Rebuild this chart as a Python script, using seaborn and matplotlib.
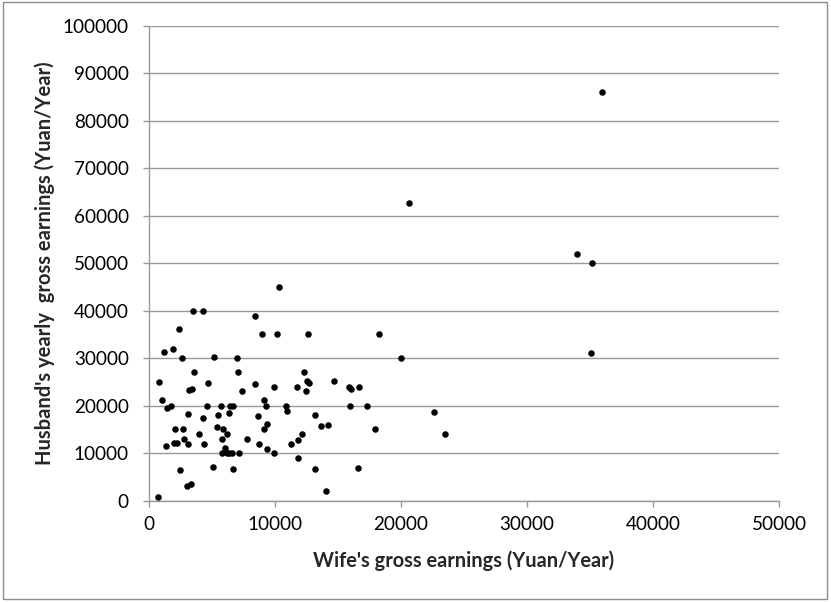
import matplotlib
matplotlib.use("Agg")
import matplotlib.pyplot as plt
import seaborn as sns
import pandas as pd
from matplotlib.patches import Rectangle

# wife's and husband's yearly gross earnings (Yuan/Year)
wife = [3470, 4310, 8440, 2350, 8970, 10190, 1160, 1900, 2650, 5130,
        6960, 3550, 7090, 820, 4680, 8440, 9950, 11780, 3180, 3410,
        7380, 1030, 9100, 1400, 1770, 4630, 5690, 6460, 6670, 9290,
        10900, 10930, 3120, 5480, 6320, 4290, 8620, 2060, 2670, 5370,
        5850, 9340, 9150, 2800, 4000, 6160, 5820, 7780, 1350, 2010,
        2200, 3100, 4370, 8700, 9390, 11240, 11800, 6060, 5790, 6190,
        6380, 6560, 7120, 9890, 11850, 2460, 5050, 6670, 3020, 3310,
        710,
        12620, 18280, 20030, 12280, 12510, 12670, 12430, 14680, 15850, 16030,
        16690, 15950, 17330, 13180, 13650, 14230, 17910, 22650, 12170, 13150,
        16610, 14020,
        23520, 35080, 20660, 10340, 35930, 33970, 35130]

husband = [40000, 40000, 38800, 36100, 35000, 35000, 31300, 32000, 30000, 30200,
           30000, 27000, 27000, 25000, 24800, 24500, 24000, 23900, 23300, 23500,
           23100, 21100, 21200, 19500, 19800, 20000, 20000, 20000, 20000, 20000,
           20000, 18900, 18200, 18000, 18400, 17300, 17700, 15000, 15000, 15400,
           15100, 16100, 15000, 13000, 14000, 14000, 12900, 13000, 11400, 12100,
           12200, 12000, 12000, 12000, 10900, 12000, 12800, 11100, 10000, 10000,
           10000, 10000, 10000, 10000, 8900, 6500, 7000, 6700, 3100, 3400,
           800,
           35000, 35000, 30000, 27000, 25200, 24800, 23100, 25100, 24000, 23500,
           24000, 20000, 20000, 18000, 15600, 16000, 15000, 18700, 14000, 6700,
           6800, 2100,
           14000, 31000, 62600, 45000, 86000, 51900, 50000]

x_ticks = [0, 10000, 20000, 30000, 40000, 50000]
y_ticks = [0, 10000, 20000, 30000, 40000, 50000, 60000, 70000, 80000, 90000, 100000]

df = pd.DataFrame({"wife": wife, "husband": husband})

sns.set_style("white")
plt.rcParams["font.family"] = ["Lato", "DejaVu Sans"]

grey = "#999999"
W, H = 831, 602
fig = plt.figure(figsize=(W / 100, H / 100), dpi=100)
ax = fig.add_axes([149 / W, (H - 500.5) / H, 630 / W, 474.8 / H])

sns.scatterplot(data=df, x="wife", y="husband", color="black", s=22,
                linewidth=0, ax=ax, zorder=3)

ax.set_xlim(0, 50000)
ax.set_ylim(0, 100000)
ax.set_xticks(x_ticks)
ax.set_yticks(y_ticks)
ax.set_xticklabels([str(v) for v in x_ticks])
ax.set_yticklabels([str(v) for v in y_ticks])

ax.grid(axis="y", color=grey, linewidth=1.0)
ax.grid(axis="x", visible=False)
for side in ["top", "right"]:
    ax.spines[side].set_visible(False)
for side in ["left", "bottom"]:
    ax.spines[side].set_color(grey)
    ax.spines[side].set_linewidth(1.0)

ax.tick_params(axis="both", direction="out", length=4.5, width=1.0, color=grey,
               labelsize=13.6, labelcolor="black")
ax.tick_params(axis="y", pad=10, left=True)
ax.tick_params(axis="x", pad=7, bottom=True)

ax.set_xlabel("Wife's gross earnings (Yuan/Year)", fontsize=13, fontweight="bold")
ax.set_ylabel("Husband's yearly  gross earnings (Yuan/Year)", fontsize=13,
              fontweight="bold")

# scale label fonts so the text spans about as far as in the original
fig.canvas.draw()
r = fig.canvas.get_renderer()
xl, yl = ax.xaxis.label, ax.yaxis.label
xl.set_fontsize(13 * 301 / xl.get_window_extent(r).width)
yl.set_fontsize(13 * 402 / yl.get_window_extent(r).height)

xl.set_va("center")
yl.set_va("center")
ax.xaxis.set_label_coords(0.5, -(561 - 500.5) / 474.8)
ax.yaxis.set_label_coords(-(149 - 45) / 630, 0.5)

fig.patches.append(Rectangle((3.5 / W, 3 / H), 823.5 / W, 597 / H,
                             transform=fig.transFigure, fill=False,
                             edgecolor="#8c8c8c", linewidth=1.0))

plt.savefig("out.png", dpi=100)
